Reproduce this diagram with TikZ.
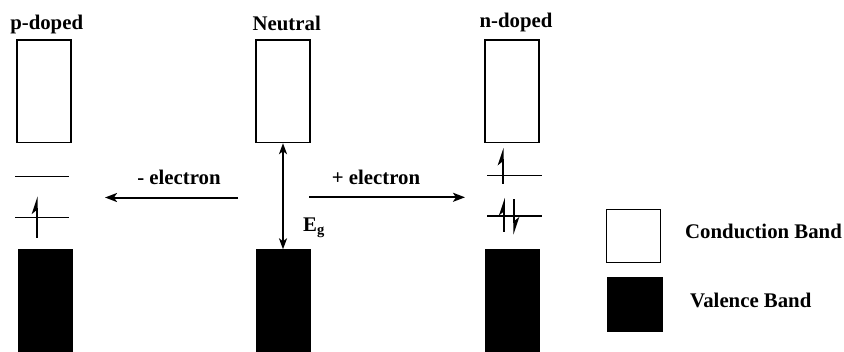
\documentclass[tikz,border=0pt]{standalone}
\usepackage{fontspec}
\setmainfont{Liberation Serif}
\usetikzlibrary{arrows.meta}
\begin{document}
\begin{tikzpicture}[x=1pt,y=-1pt,
  cband/.style={draw=black,line width=1.5pt,fill=white,minimum width=54pt,minimum height=102.5pt,inner sep=0pt},
  vband/.style={draw=black,fill=black,line width=0.5pt,minimum width=54.5pt,minimum height=101.5pt,inner sep=0pt},
  lbl/.style={font=\fontsize{20.8}{24}\selectfont\bfseries,inner sep=0pt,anchor=base},
  level/.style={line width=1.5pt},
  spinup/.style={line width=1.7pt,-{Stealth[harpoon,length=15pt,width=10pt,inset=4pt]}},
  trans/.style={line width=2pt,-{Stealth[length=12pt,width=9pt,inset=3pt]}},
  gap/.style={line width=2pt,{Stealth[length=11pt,width=8pt,inset=3pt]}-{Stealth[length=11pt,width=8pt,inset=3pt]}}
]
\useasboundingbox (0,0) rectangle (844,351);
% conduction bands
\node[cband] (pc) at (44.2,91.2) {};
\node[cband] (nc) at (283,91.2) {};
\node[cband] (dc) at (512,91.2) {};
% valence bands
\node[vband] (pv) at (45,300.3) {};
\node[vband] (nv) at (283,300.3) {};
\node[vband] (dv) at (512,300.3) {};
% titles
\node[lbl] (tp) at (46.7,29) {p-doped};
\node[lbl] (tn) at (286.7,30) {Neutral};
\node[lbl] (td) at (516,27) {n-doped};
% p-doped levels
\coordinate (p1a) at (15,176.7); \coordinate (p1b) at (69,176.7);
\coordinate (p2a) at (15,217.7); \coordinate (p2b) at (69,217.7);
\draw[level] (p1a) -- (p1b);
\draw[level] (p2a) -- (p2b);
\coordinate (ps1) at (36.7,237.7); \coordinate (ps2) at (36.7,196.5);
\draw[spinup] (ps1) -- (ps2);
% n-doped levels
\coordinate (d1a) at (487,175.7); \coordinate (d1b) at (542,175.7);
\coordinate (d2a) at (487,216); \coordinate (d2b) at (542,216);
\draw[level] (d1a) -- (d1b);
\draw[level] (d2a) -- (d2b);
\coordinate (ds1) at (502.7,183.5); \coordinate (ds2) at (502.7,147.8);
\draw[spinup] (ds1) -- (ds2);
\coordinate (ds3) at (504,231.7); \coordinate (ds4) at (504,197.8);
\draw[spinup] (ds3) -- (ds4);
\coordinate (ds5) at (514.3,199); \coordinate (ds6) at (514.3,234.5);
\draw[spinup] (ds5) -- (ds6);
% transitions
\coordinate (la) at (238,197.5); \coordinate (lb) at (105,197.5);
\coordinate (ra) at (309,197.3); \coordinate (rb) at (465,197.3);
\draw[trans] (la) -- (lb);
\draw[trans] (ra) -- (rb);
\node[lbl] (lm) at (179,184) {- electron};
\node[lbl] (lp) at (376,184) {+ electron};
% band gap
\draw[gap] (nc.south) -- (nv.north);
\node[lbl,anchor=base west] (eg) at (303,231) {E\textsubscript{g}};
% legend
\node[draw=black,line width=1.5pt,fill=white,minimum width=54pt,minimum height=53pt,inner sep=0pt] (lc) at (633.7,235.8) {};
\node[fill=black,draw=black,line width=0.5pt,minimum width=55.5pt,minimum height=54pt,inner sep=0pt] (lv) at (634.8,304.7) {};
\node[lbl,anchor=base west] (lct) at (685,238) {Conduction Band};
\node[lbl,anchor=base west] (lvt) at (690,307) {Valence Band};
\end{tikzpicture}
\end{document}
